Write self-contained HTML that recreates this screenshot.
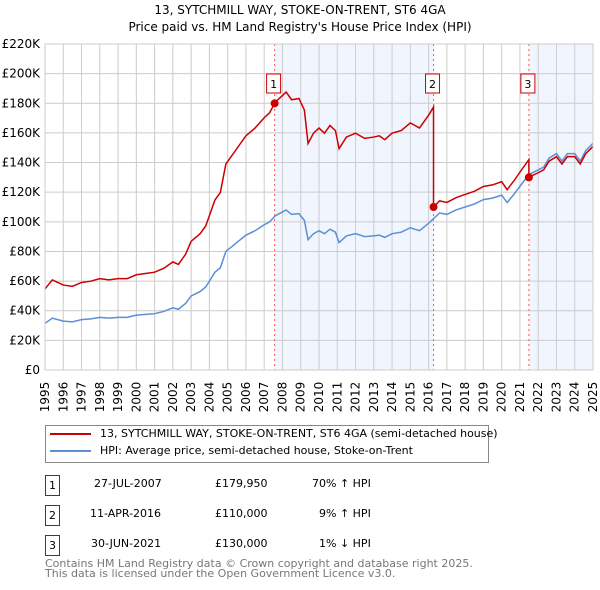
<!DOCTYPE html>
<html><head><meta charset="utf-8"><style>
body{margin:0;background:#fff;font-family:"DejaVu Sans","Liberation Sans",sans-serif;}
#wrap{position:relative;width:600px;height:590px;overflow:hidden;}
.t{position:absolute;font-size:11px;color:#000;white-space:nowrap;}
.box{position:absolute;width:13px;height:19px;border:1px solid #c00;font-size:11px;text-align:center;line-height:19px;}
</style></head><body><div id="wrap">
<svg id="c" width="600" height="420" style="position:absolute;left:0;top:0"></svg>
<div style="position:absolute;left:45px;top:425px;width:442px;height:36px;border:1px solid #888;"></div>
<div style="position:absolute;left:50px;top:433px;width:41px;height:2px;background:#c00"></div>
<div style="position:absolute;left:50px;top:450px;width:41px;height:2px;background:#5b8fd6"></div>
<div class="t" style="left:100px;top:427px">13, SYTCHMILL WAY, STOKE-ON-TRENT, ST6 4GA (semi-detached house)</div>
<div class="t" style="left:100px;top:444px">HPI: Average price, semi-detached house, Stoke-on-Trent</div>
<div class="box" style="left:45px;top:475px">1</div>
<div class="t" style="left:94px;top:477px">27-JUL-2007</div>
<div class="t" style="left:215px;top:477px">£179,950</div>
<div class="t" style="left:312px;top:477px">70% ↑ HPI</div>
<div class="box" style="left:45px;top:505px">2</div>
<div class="t" style="left:90px;top:507px">11-APR-2016</div>
<div class="t" style="left:215px;top:507px">£110,000</div>
<div class="t" style="left:319px;top:507px">9% ↑ HPI</div>
<div class="box" style="left:45px;top:535px">3</div>
<div class="t" style="left:91px;top:537px">30-JUN-2021</div>
<div class="t" style="left:215px;top:537px">£130,000</div>
<div class="t" style="left:319px;top:537px">1% ↓ HPI</div>
<div class="t" style="left:45px;top:559px;color:#777;line-height:10px">Contains HM Land Registry data © Crown copyright and database right 2025.<br>This data is licensed under the Open Government Licence v3.0.</div>
</div>
<script>
const hpiYears=[1995,1995.4,1995.7,1996,1996.5,1997,1997.5,1998,1998.5,1999,
1999.5,2000,2000.5,2001,2001.5,2002,2002.3,2002.7,2003,2003.5,
2003.8,2004,2004.3,2004.6,2004.9,2005.3,2005.7,2006,2006.5,2007,
2007.3,2007.6,2007.9,2008.2,2008.5,2008.9,2009.2,2009.4,2009.7,2010,
2010.3,2010.6,2010.9,2011.1,2011.5,2012,2012.5,2013,2013.3,2013.6,
2014,2014.5,2015,2015.5,2016,2016.3,2016.6,2017,2017.5,2018,
2018.5,2019,2019.5,2020,2020.3,2020.7,2021,2021.5,2022,2022.3,
2022.6,2023,2023.3,2023.6,2024,2024.3,2024.6,2025];
const hpiValues=[31.5,35,34,33,32.5,34,34.5,35.5,35,35.5,
35.5,37,37.5,38,39.5,42,41,45,50,53,
56,60,66,69,80,84,88,91,94,98,
100,104,106,108,105,105.5,101,88,92,94,
92,95,93,86,90.5,92,90,90.5,91,89.5,
92,93,96,94,99,102.5,106,105,108,110,
112,115,116,118,113,119,124,132,135,137,
143,146,141,146,146,141,148,153];
const ticksY=[0,20,40,60,80,100,120,140,160,180,200,220];
const ticksYLabels=["£0","£20K","£40K","£60K","£80K","£100K","£120K","£140K","£160K","£180K","£200K","£220K"];
const saleYears=[2007.57,2016.27,2021.49];
const salePrices=[179.95,110,130];
const saleLabels=["1","2","3"];

const X0=45,X1=593,Y0=370,Y1=44;
const x=t=>X0+(t-1995)/30*(X1-X0);
const y=v=>Y0-v/220*(Y0-Y1);
const svg=document.getElementById('c'),NS="http://www.w3.org/2000/svg";
function mk(tag,at,name){const e=document.createElementNS(NS,tag);for(const k in at)e.setAttribute(k,at[k]);


svg.appendChild(e);return e;}
function hpiAt(t){for(let i=1;i<hpiYears.length;i++)if(t<=hpiYears[i]){const f=(t-hpiYears[i-1])/(hpiYears[i]-hpiYears[i-1]);return hpiValues[i-1]+f*(hpiValues[i]-hpiValues[i-1]);}return hpiValues[hpiValues.length-1];}
mk('rect',{x:x(saleYears[0]),y:Y1,width:x(saleYears[1])-x(saleYears[0]),height:Y0-Y1,fill:'#eef3fc',opacity:0.8},'shade-period-1');
mk('rect',{x:x(saleYears[2]),y:Y1,width:X1-x(saleYears[2]),height:Y0-Y1,fill:'#eef3fc',opacity:0.8},'shade-period-3');
for(let i=0;i<ticksY.length;i++){mk('line',{x1:X0,x2:X1,y1:y(ticksY[i]),y2:y(ticksY[i]),stroke:'#ccc'},'grid-h');
const tx=mk('text',{x:X0-5,y:y(ticksY[i])+4,'text-anchor':'end','font-size':'12','font-family':'DejaVu Sans, sans-serif'},'y-tick-label');tx.textContent=ticksYLabels[i];}
for(let yr=1995;yr<=2025;yr++){mk('line',{x1:x(yr),x2:x(yr),y1:Y1,y2:Y0,stroke:'#ccc'},'grid-v');
const tx=mk('text',{x:0,y:0,transform:`translate(${x(yr)+4},${Y0+27}) rotate(-90)`,'text-anchor':'middle','font-size':'12','font-family':'DejaVu Sans, sans-serif'},'x-tick-label');tx.textContent=yr;}
saleYears.forEach((s,i)=>{mk('line',{x1:x(s),x2:x(s),y1:Y1,y2:Y0,stroke:'#f55','stroke-dasharray':'2,3'},'sale-marker-line');});
mk('polyline',{points:hpiYears.map((t,i)=>x(t)+','+y(hpiValues[i])).join(' '),fill:'none',stroke:'#5b8fd6','stroke-width':1.5},'hpi-line');
const f=salePrices.map((p,i)=>p/hpiAt(saleYears[i]));
let pts=[];
for(let i=0;i<hpiYears.length;i++){const t=hpiYears[i];let seg=t<saleYears[1]?0:(t<saleYears[2]?1:2);
if(i>0&&hpiYears[i-1]<saleYears[1]&&t>=saleYears[1]){pts.push([saleYears[1],hpiAt(saleYears[1])*f[0]]);pts.push([saleYears[1],salePrices[1]]);}
if(i>0&&hpiYears[i-1]<saleYears[2]&&t>=saleYears[2]){pts.push([saleYears[2],hpiAt(saleYears[2])*f[1]]);pts.push([saleYears[2],salePrices[2]]);}
pts.push([t,hpiValues[i]*f[seg]]);}
mk('polyline',{points:pts.map(p=>x(p[0])+','+y(p[1])).join(' '),fill:'none',stroke:'#c00','stroke-width':1.5},'property-price-line');
saleYears.forEach((s,i)=>{mk('circle',{cx:x(s),cy:y(salePrices[i]),r:4,fill:'#c00'},'sale-point-'+(i+1));
mk('rect',{x:x(s)-8,y:74,width:14,height:19,fill:'#fff',stroke:'#c00'},'sale-label-box-'+(i+1));
const tx=mk('text',{x:x(s)-1,y:88,'text-anchor':'middle','font-size':'11','font-family':'DejaVu Sans, sans-serif'},'sale-label-'+(i+1));tx.textContent=saleLabels[i];});
mk('rect',{x:X0,y:Y1,width:X1-X0,height:Y0-Y1,fill:'none',stroke:'#ccc'},'plot-border');
const t1=mk('text',{x:300,y:14,'text-anchor':'middle','font-size':'12','font-family':'DejaVu Sans, sans-serif'},'chart-title');t1.textContent="13, SYTCHMILL WAY, STOKE-ON-TRENT, ST6 4GA";
const t2=mk('text',{x:300,y:31,'text-anchor':'middle','font-size':'12','font-family':'DejaVu Sans, sans-serif'},'chart-subtitle');t2.textContent="Price paid vs. HM Land Registry's House Price Index (HPI)";
</script></body></html>
